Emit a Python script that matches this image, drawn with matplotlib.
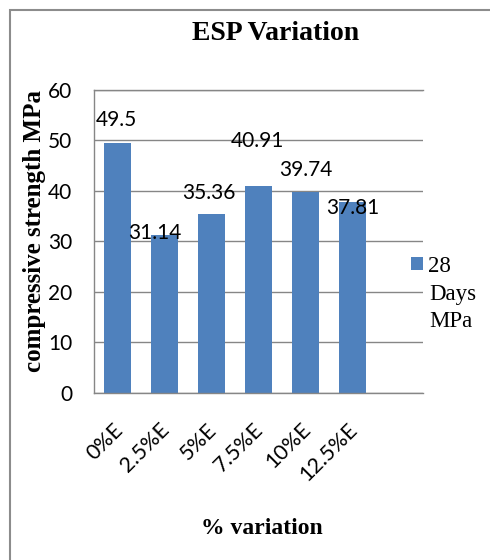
import numpy as np
import matplotlib
matplotlib.use("Agg")
import matplotlib.pyplot as plt
from matplotlib.patches import Rectangle
from matplotlib.transforms import ScaledTranslation

# ---- data ----
categories = ["0%E", "2.5%E", "5%E", "7.5%E", "10%E", "12.5%E"]
strength_28d = [49.5, 31.14, 35.36, 40.91, 39.74, 37.81]
y_ticks = [0, 10, 20, 30, 40, 50, 60]

BAR_COLOR = "#4F81BD"
GRID_COLOR = "#868686"
LABEL_FONT = "Lato"
SERIF = "Liberation Serif"

W, H = 490, 560
fig = plt.figure(figsize=(W / 100, H / 100), dpi=100)

# outer chart frame (grey border)
fig.add_artist(Rectangle((10 / W, -0.1), 1.2, 1 - 10 / H + 0.1,
                         transform=fig.transFigure, fill=False,
                         edgecolor="#8c8c8c", linewidth=1.5, clip_on=False))

ax = fig.add_axes([94 / W, 1 - 393 / H, (423 - 94) / W, (393 - 89.5) / H])

x = np.arange(len(categories))
bars = ax.bar(x, strength_28d, width=0.57, color=BAR_COLOR, zorder=2)

ax.set_xlim(-0.5, len(categories) + 0.5)
ax.set_ylim(0, 60)
ax.set_yticks(y_ticks)
ax.yaxis.grid(True, color=GRID_COLOR, linewidth=1)
ax.set_axisbelow(True)

for side in ("left", "bottom", "top"):
    ax.spines[side].set_color(GRID_COLOR)
    ax.spines[side].set_linewidth(1)
ax.spines["right"].set_visible(False)

ax.tick_params(axis="y", length=0, pad=15.5, labelsize=15)
for lab in ax.get_yticklabels():
    lab.set_fontfamily(LABEL_FONT)

ax.set_xticks(x)
ax.set_xticklabels(categories, rotation=45, ha="right", va="top",
                   rotation_mode="anchor", fontfamily=LABEL_FONT, fontsize=15.5)
ax.tick_params(axis="x", length=0, pad=19)
shift = ScaledTranslation(-5 / 100, 0, fig.dpi_scale_trans)
for lab in ax.get_xticklabels():
    lab.set_transform(lab.get_transform() + shift)

# value labels, nudged by hand where they would collide
label_offsets = [(-1, 24.5), (-10, 4.5), (-3, 23.5), (-1, 47), (0, 23.5), (0, -4)]
for xi, v, (dx, dy) in zip(x, strength_28d, label_offsets):
    ax.annotate(f"{v:g}", (xi, v), xytext=(dx, dy), textcoords="offset pixels",
                ha="center", va="center_baseline", fontfamily=LABEL_FONT,
                fontsize=15, zorder=3)

# titles
fig.text(276 / W, 1 - 34 / H, "ESP Variation", ha="center", va="center",
         fontfamily=SERIF, fontweight="bold", fontsize=20)
fig.text(262 / W, 1 - 529 / H, "% variation", ha="center", va="center",
         fontfamily=SERIF, fontweight="bold", fontsize=17)
fig.text(35 / W, 1 - 231 / H, "compressive strength MPa", ha="center",
         va="center", rotation=90, fontfamily=SERIF, fontweight="bold",
         fontsize=18)

# legend: square handle with the first word, remaining words wrapped below
fs = 16.5
fs_px = fs * 100 / 72
leg = fig.legend([bars], ["28"], loc="upper left",
                 bbox_to_anchor=(411 / W, 1 - 256 / H), frameon=False,
                 borderpad=0, borderaxespad=0, handlelength=12 / fs_px,
                 handleheight=11 / fs_px, handletextpad=5 / fs_px,
                 prop={"family": SERIF, "size": fs})
fig.text(429 / W, 1 - 284 / H, "Days\nMPa", ha="left", va="top",
         fontfamily=SERIF, fontsize=fs, linespacing=1.35)

fig.savefig("out.png", dpi=100)
